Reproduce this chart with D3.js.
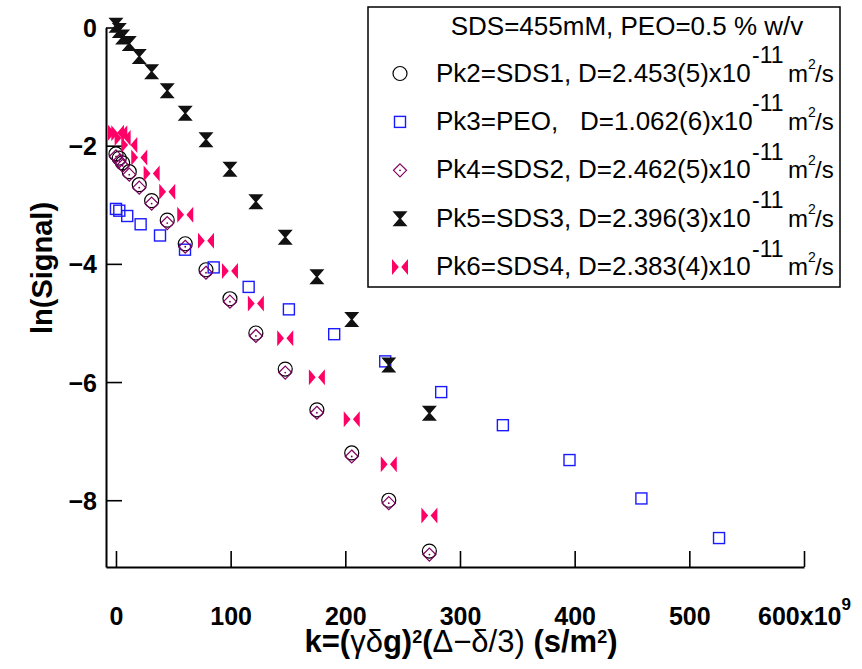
<!DOCTYPE html>
<html>
<head>
<meta charset="utf-8">
<script src="https://cdnjs.cloudflare.com/ajax/libs/d3/7.8.5/d3.min.js"></script>
<style>
body{margin:0;background:#fff;}
svg{font-family:"Liberation Sans",Arial,sans-serif;}
</style>
</head>
<body>
<div id="container"></div>
<script>
// k values in units of 10^9 s/m^2 (the SDS peaks share one set, PEO has its own)
const kSDS = [0, 2.9, 5.8, 11.6, 20.3, 31.1, 44.7, 60.4, 78.5, 99.4, 122, 147.6, 175.2, 205.6, 237.9, 273.3];
const kPEO = [0, 2.9, 9.8, 21.5, 38.4, 60.2, 85.2, 115.7, 150.8, 190.3, 234.8, 283.6, 337.4, 395.5, 458.2, 525.9];

const pk2 = [-2.14, -2.21, -2.29, -2.44, -2.66, -2.93, -3.26, -3.66, -4.10, -4.59, -5.17, -5.78, -6.47, -7.20, -8.00, -8.86];
const pk3 = [-3.07, -3.10, -3.19, -3.33, -3.52, -3.76, -4.06, -4.39, -4.77, -5.19, -5.65, -6.17, -6.73, -7.32, -7.97, -8.64];
const pk4 = [-2.18, -2.26, -2.34, -2.49, -2.71, -2.98, -3.31, -3.71, -4.15, -4.64, -5.22, -5.84, -6.52, -7.26, -8.05, -8.92];
const pk5 = [0.04, -0.05, -0.16, -0.27, -0.49, -0.75, -1.07, -1.45, -1.90, -2.40, -2.95, -3.55, -4.22, -4.94, -5.71, -6.53];
const pk6 = [-1.78, -1.79, -1.87, -1.99, -2.20, -2.47, -2.78, -3.17, -3.61, -4.12, -4.67, -5.26, -5.92, -6.63, -7.39, -8.26];

// legend texts
const legendTitle = "SDS=455mM, PEO=0.5 % w/v";
const peakNames = ["Pk2=SDS1,", "Pk3=PEO,", "Pk4=SDS2,", "Pk5=SDS3,", "Pk6=SDS4,"];
const diffusion = ["D=2.453(5)x10", "D=1.062(6)x10", "D=2.462(5)x10", "D=2.396(3)x10", "D=2.383(4)x10"];

// ticks
const xTicks = [0, 100, 200, 300, 400, 500, 600];
const yTicks = [0, -2, -4, -6, -8];

class Chart{

    constructor(opts)
    {
        this.element = opts.element;
        this.width = 862;
        this.height = 669;

        this.svg = d3.select(this.element).append("svg")
            .attr("width", this.width)
            .attr("height", this.height);

        //plot area edges
        this.left = 106;
        this.right = 804;
        this.top = 27.5;
        this.bottom = 567;

        this.x = d3.scaleLinear().domain([-8.7, 600]).range([this.left, this.right]);
        this.y = d3.scaleLinear().domain([-9.13, 0]).range([this.bottom, this.top]);

        this.series = [
            {k: kSDS, v: pk2, type: "circle"},
            {k: kPEO, v: pk3, type: "square"},
            {k: kSDS, v: pk4, type: "diamond"},
            {k: kSDS, v: pk5, type: "hourglass"},
            {k: kSDS, v: pk6, type: "bowtie"}
        ];

        this.drawAxes();
        this.drawPoints();
        this.drawLegend();
    }

    //draws one marker into the group g
    marker(g, type){
        if(type == "circle"){
            g.append("circle").attr("r", 7)
                .attr("fill", "none").attr("stroke", "#000").attr("stroke-width", 1.2);
        } else if(type == "square"){
            g.append("rect").attr("x", -5.5).attr("y", -5.5)
                .attr("width", 11).attr("height", 11)
                .attr("fill", "none").attr("stroke", "#1a1aff").attr("stroke-width", 1.4);
        } else if(type == "diamond"){
            g.append("path").attr("d", "M0,-6.5L6.5,0L0,6.5L-6.5,0Z")
                .attr("fill", "none").attr("stroke", "#800060").attr("stroke-width", 1.2);
            g.append("circle").attr("r", 0.9).attr("fill", "#800060");
        } else if(type == "hourglass"){
            g.append("path").attr("d", "M-7.5,-7.5H7.5L1,0L7.5,7.5H-7.5L-1,0Z")
                .attr("fill", "#111");
        } else {
            g.append("path").attr("d", "M-8,-8L-1.2,0L-8,8Z M8,-8L1.2,0L8,8Z")
                .attr("fill", "#ff0066");
        }
    }

    drawAxes(){
        var svg = this.svg;

        var xAxis = d3.axisBottom(this.x)
            .tickValues(xTicks)
            .tickSizeInner(-16)
            .tickSizeOuter(0)
            .tickPadding(40);

        var gx = svg.append("g")
            .attr("transform", "translate(0," + this.bottom + ")")
            .call(xAxis);

        var yAxis = d3.axisLeft(this.y)
            .tickValues(yTicks)
            .tickSizeInner(-16)
            .tickSizeOuter(0)
            .tickPadding(9);

        var gy = svg.append("g")
            .attr("transform", "translate(" + this.left + ",0)")
            .call(yAxis);

        //styling both axes
        [gx, gy].forEach(function(g){
            g.select(".domain").attr("stroke", "#000").attr("stroke-width", 2);
            g.selectAll(".tick line").attr("stroke", "#000").attr("stroke-width", 1.6);
            g.selectAll(".tick text")
                .attr("fill", "#000")
                .style("font-family", "'Liberation Sans', Arial, sans-serif")
                .style("font-size", "25px")
                .style("font-weight", "bold");
        });

        gx.selectAll(".tick text").attr("y", 58).attr("dy", 0);
        gy.selectAll(".tick text").attr("dy", "0.36em");

        //exponent on the last x label
        gx.selectAll(".tick text").filter(function(d){ return d == 600; })
            .text("600x10")
            .append("tspan")
            .attr("dy", -15)
            .style("font-size", "17px")
            .text("9");

        //axis titles
        svg.append("text")
            .attr("transform", "translate(52,268) rotate(-90)")
            .attr("text-anchor", "middle")
            .style("font-size", "29px")
            .style("font-weight", "bold")
            .text("ln(Signal)");

        var xt = svg.append("text")
            .attr("x", 461)
            .attr("y", 652)
            .attr("text-anchor", "middle")
            .style("font-size", "31px")
            .style("font-weight", "bold");
        xt.append("tspan").text("k=(");
        xt.append("tspan").style("font-weight", "normal").text("γδ");
        xt.append("tspan").text("g)");
        xt.append("tspan").attr("dy", -9).style("font-size", "18px").text("2");
        xt.append("tspan").attr("dy", 9).text("(");
        xt.append("tspan").style("font-weight", "normal").text("Δ−δ/3)");
        xt.append("tspan").text(" (s/m");
        xt.append("tspan").attr("dy", -9).style("font-size", "18px").text("2");
        xt.append("tspan").attr("dy", 9).text(")");
    }

    drawPoints(){
        var self = this;
        this.series.forEach(function(s){
            var pts = s.k.map(function(k, i){ return [k, s.v[i]]; });
            self.svg.append("g")
                .selectAll("g")
                .data(pts)
                .join("g")
                .attr("transform", function(d){ return "translate(" + self.x(d[0]) + "," + self.y(d[1]) + ")"; })
                .each(function(){ self.marker(d3.select(this), s.type); });
        });
    }

    drawLegend(){
        var self = this;
        var lg = this.svg.append("g");

        lg.append("rect")
            .attr("x", 368).attr("y", 7)
            .attr("width", 472).attr("height", 280)
            .attr("fill", "#fff")
            .attr("stroke", "#000")
            .attr("stroke-width", 1.5);

        lg.append("text")
            .attr("x", 627).attr("y", 35)
            .attr("text-anchor", "middle")
            .style("font-size", "26px")
            .text(legendTitle);

        peakNames.forEach(function(name, i){
            var base = 81.5 + 48.4 * i;

            var m = lg.append("g").attr("transform", "translate(400," + (base - 8) + ")");
            self.marker(m, self.series[i].type);

            var t = lg.append("text").attr("y", base).style("font-size", "26px");
            t.append("tspan").attr("x", 436).text(name);
            t.append("tspan").attr("x", i == 1 ? 580 : 578).text(diffusion[i]);
            t.append("tspan").attr("x", 752).attr("dy", -18.5).style("font-size", "23px").text("-11");
            t.append("tspan").attr("x", 788).attr("dy", 18.5).style("font-size", "24px").text("m");
            t.append("tspan").attr("x", 808).attr("dy", -13).style("font-size", "14px").text("2");
            t.append("tspan").attr("x", 815).attr("dy", 13).style("font-size", "24px").text("/s");
        });
    }
}

new Chart({element: "#container"});
</script>
</body>
</html>
